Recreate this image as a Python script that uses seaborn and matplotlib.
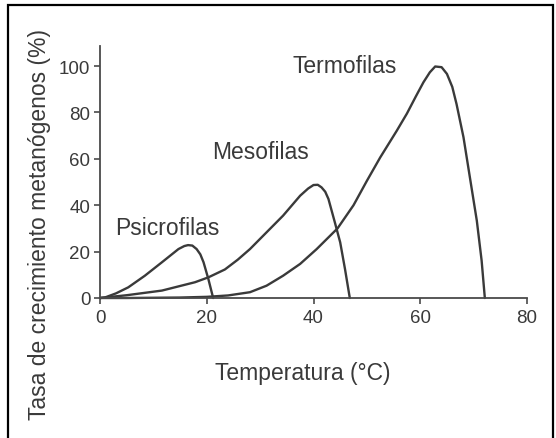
import pandas as pd
import matplotlib.pyplot as plt
import seaborn as sns
from matplotlib.patches import Rectangle

# Curve data (temperature in °C, growth rate in %)
psicro_temp = [0, 0.9, 3, 5.3, 8.4, 11.6, 14.7, 15.8, 16.5, 17.3, 18.1, 18.8, 19.4, 20.3, 21.2]
psicro_rate = [0, 0.2, 2, 4.6, 9.6, 15.4, 21.1, 22.4, 22.8, 22.6, 21.1, 18.8, 15.4, 8.2, 0]

meso_temp = [0, 5, 11.6, 17.8, 20.3, 23.4, 25.8, 28.1, 31.2, 34.3, 37.5, 39, 40, 40.8, 41.5,
             42.2, 42.8, 44, 45, 45.9, 46.8]
meso_rate = [0, 1.2, 3.2, 6.8, 8.9, 12.3, 16.5, 21.1, 28.3, 35.5, 44.1, 47.2, 48.7, 48.8, 47.7,
             45.8, 42.7, 32.6, 24, 12.5, 0]

termo_temp = [0, 5, 10, 15, 20, 24, 28.1, 31.2, 34.3, 37.5, 40.6, 44.5, 47.5, 50, 52.5, 55.6,
              57.5, 59.2, 60.6, 61.8, 62.8, 64, 65, 66, 66.8, 68.1, 69.3, 70.6, 71.5, 72.1]
termo_rate = [0, 0, 0.1, 0.2, 0.5, 1.1, 2.5, 5.3, 9.6, 14.7, 21.1, 30, 40, 50.5, 60.6, 72.1,
              79.5, 87, 93, 97.3, 99.8, 99.5, 96.6, 91, 83.6, 69.3, 52, 33.3, 16.1, 0]

groups = ["Psicrofilas", "Mesofilas", "Termofilas"]
label_x = [12.6, 30.0, 45.9]
label_y = [30.5, 63.3, 100.3]

x_ticks = [0, 20, 40, 60, 80]
y_ticks = [0, 20, 40, 60, 80, 100]

curves = pd.concat([
    pd.DataFrame({"Temperatura": psicro_temp, "Tasa": psicro_rate, "Grupo": groups[0]}),
    pd.DataFrame({"Temperatura": meso_temp, "Tasa": meso_rate, "Grupo": groups[1]}),
    pd.DataFrame({"Temperatura": termo_temp, "Tasa": termo_rate, "Grupo": groups[2]}),
], ignore_index=True)

sns.set_style("ticks")
plt.rcParams["font.family"] = ["Liberation Sans", "DejaVu Sans"]
plt.rcParams["lines.solid_joinstyle"] = "round"

text_color = "#3a3a3a"
line_color = "#3a3a3a"

fig = plt.figure(figsize=(5.56, 4.39), dpi=100)
ax = fig.add_axes([100 / 556, 140 / 439, 427 / 556, 251.7 / 439])

for g in groups:
    sub = curves[curves["Grupo"] == g]
    sns.lineplot(data=sub, x="Temperatura", y="Tasa", ax=ax, color=line_color,
                 linewidth=1.7, estimator=None, sort=False, legend=False, clip_on=False)

for g, tx, ty in zip(groups, label_x, label_y):
    ax.text(tx, ty, g, ha="center", va="center", fontsize=16.5, color=text_color)

ax.set_xlim(0, 80)
ax.set_ylim(0, 108.5)
ax.set_xticks(x_ticks)
ax.set_yticks(y_ticks)
ax.tick_params(axis="both", direction="out", length=4, width=1.2, colors="#4a4a4a",
               labelsize=13.5, labelcolor=text_color)
ax.tick_params(axis="x", pad=4)
ax.tick_params(axis="y", pad=3)
sns.despine(ax=ax)
for side in ["left", "bottom"]:
    ax.spines[side].set_color("#4a4a4a")
    ax.spines[side].set_linewidth(1.3)

ax.set_xlabel("Temperatura (°C)", fontsize=16.5, color=text_color)
ax.xaxis.label.set_va("center")
ax.xaxis.set_label_coords(203 / 427, -75 / 251.7)
ax.set_ylabel("Tasa de crecimiento metanógenos (%)", fontsize=16.5, color=text_color)
ax.yaxis.label.set_va("center")
ax.yaxis.set_label_coords(-60 / 427, 74 / 251.7)

# black frame around the figure
fig.patches.append(Rectangle((8 / 556, -0.05), 545 / 556, 1.05 - 6 / 439,
                             transform=fig.transFigure, fill=False,
                             edgecolor="black", linewidth=1.6))

fig.savefig("out.png", dpi=100)
